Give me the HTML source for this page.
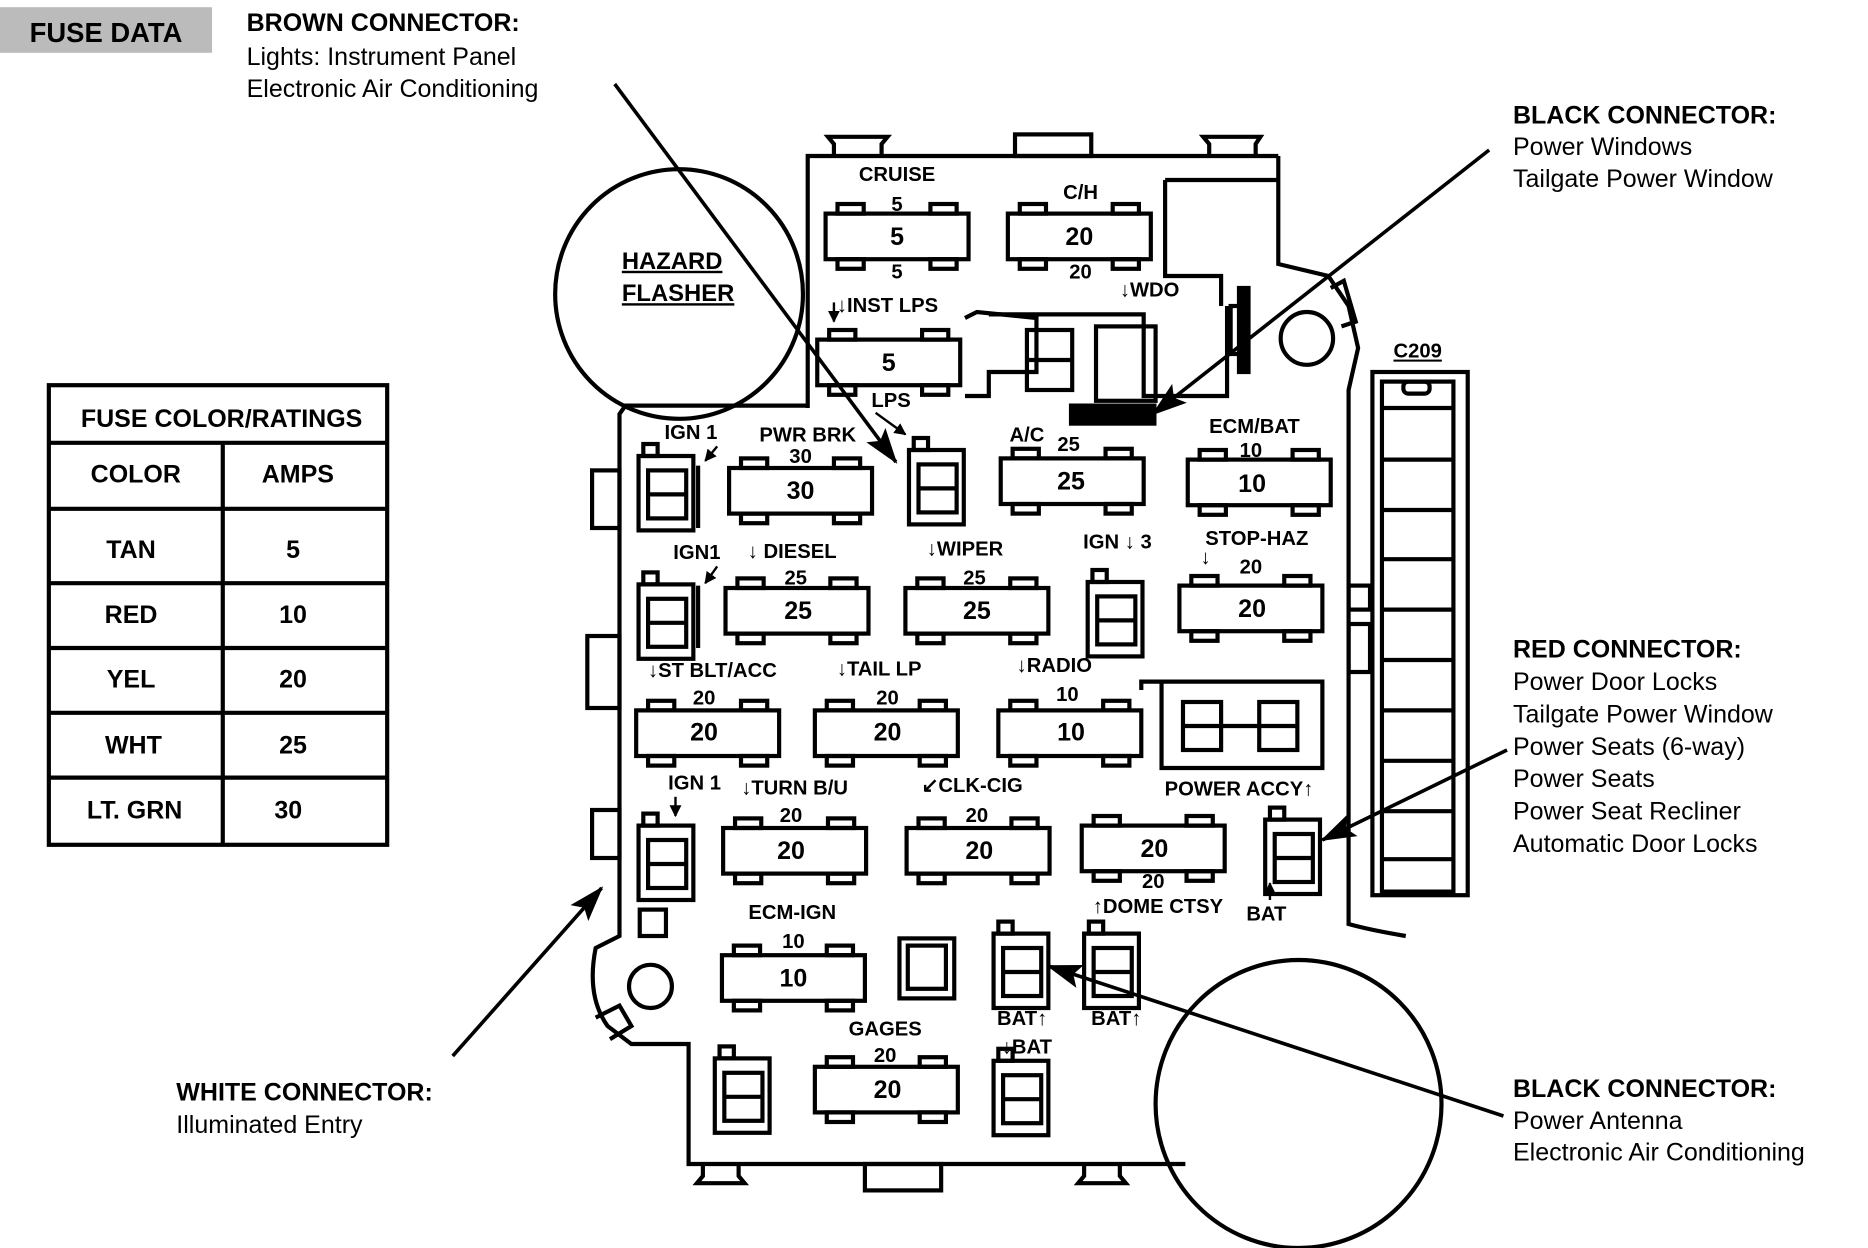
<!DOCTYPE html>
<html><head><meta charset="utf-8"><style>
html,body{margin:0;padding:0;background:#fff;}
svg{display:block}
.n{font-family:"Liberation Sans Narrow","Liberation Sans",sans-serif;font-weight:bold;font-size:21px;fill:#000;text-anchor:middle}
.s{font-family:"Liberation Sans Narrow","Liberation Sans",sans-serif;font-weight:bold;font-size:17px;fill:#000;text-anchor:middle}
.h{font-family:"Liberation Sans",sans-serif;font-size:21px;fill:#000}
.hb{font-family:"Liberation Sans",sans-serif;font-size:21px;font-weight:bold;fill:#000}
</style></head><body>
<svg width="1868" height="1248" viewBox="0 0 1568 1040" preserveAspectRatio="none" xmlns="http://www.w3.org/2000/svg">
<defs>
<g id="fu" fill="none" stroke="#000" stroke-width="3.5">
<rect x="0" y="0" width="120" height="38" fill="#fff"/>
<rect x="10" y="-8" width="22" height="8"/><rect x="88" y="-8" width="22" height="8"/>
<rect x="10" y="38" width="22" height="8"/><rect x="88" y="38" width="22" height="8"/>
</g>
<g id="rl" fill="none" stroke="#000" stroke-width="3.5">
<rect x="0" y="0" width="46" height="62"/>
<rect x="8" y="12" width="32" height="40"/>
<line x1="8" y1="32" x2="40" y2="32"/>
<rect x="4" y="-10" width="12" height="10"/>
</g>
<marker id="ar" markerWidth="10" markerHeight="10" refX="9" refY="5" orient="auto" markerUnits="userSpaceOnUse" viewBox="0 0 10 10"><path d="M0,0 L10,5 L0,10z" fill="#000"/></marker>
<marker id="big" markerWidth="30" markerHeight="20" refX="28" refY="10" orient="auto" markerUnits="userSpaceOnUse" viewBox="0 0 30 20"><path d="M0,0 L30,10 L0,20 L6,10z" fill="#000"/></marker>
</defs>

<rect x="0" y="6" width="178" height="38" fill="#bbb"/>
<text x="89" y="35" class="hb" style="text-anchor:middle;font-size:23px">FUSE DATA</text>
<text x="207" y="26" class="hb">BROWN CONNECTOR:</text>
<text x="207" y="54" class="h">Lights: Instrument Panel</text>
<text x="207" y="81" class="h">Electronic Air Conditioning</text>

<g fill="none" stroke="#000" stroke-width="3.5">
<rect x="41" y="321" width="284" height="383"/>
<line x1="41" y1="369" x2="325" y2="369"/>
<line x1="41" y1="424" x2="325" y2="424"/>
<line x1="41" y1="486" x2="325" y2="486"/>
<line x1="41" y1="540" x2="325" y2="540"/>
<line x1="41" y1="594" x2="325" y2="594"/>
<line x1="41" y1="648" x2="325" y2="648"/>
<line x1="187" y1="369" x2="187" y2="704"/>
</g>
<text x="186" y="356" class="n">FUSE COLOR/RATINGS</text>
<text x="114" y="402" class="n">COLOR</text><text x="250" y="402" class="n">AMPS</text>
<text x="110" y="465" class="n">TAN</text><text x="246" y="465" class="n">5</text>
<text x="110" y="519" class="n">RED</text><text x="246" y="519" class="n">10</text>
<text x="110" y="573" class="n">YEL</text><text x="246" y="573" class="n">20</text>
<text x="112" y="628" class="n">WHT</text><text x="246" y="628" class="n">25</text>
<text x="113" y="682" class="n">LT. GRN</text><text x="242" y="682" class="n">30</text>

<circle cx="570" cy="245" r="104" fill="none" stroke="#000" stroke-width="3.5"/>
<text x="522" y="224" class="n" style="text-anchor:start;text-decoration:underline;font-size:20px">HAZARD</text>
<text x="522" y="251" class="n" style="text-anchor:start;text-decoration:underline;font-size:20px">FLASHER</text>

<g fill="none" stroke="#000" stroke-width="3.5">
<path d="M678,340 L678,130 L1073,130"/>
<path d="M1073,130 L1073,220 L1115,230 L1132,255 L1140,290 L1132,325 L1132,770 Q1150,775 1180,780"/>
<path d="M678,338 L525,338 L520,345 L520,780 L500,790 Q492,830 510,855 L530,870 L578,870 L578,970 L995,970"/>
<circle cx="546" cy="822" r="18"/>
<path d="M500,848 L520,838 L530,855 L512,866"/>
<circle cx="1097" cy="282" r="22"/>
<path d="M1117,240 L1128,234 L1138,268 L1126,272"/>
<path d="M700,130 L700,120 L695,114 L745,114 L740,120 L740,130"/>
<rect x="852" y="112" width="64" height="18"/>
<path d="M1015,130 L1015,120 L1010,114 L1058,114 L1054,120 L1054,130"/>
<path d="M590,970 L590,980 L585,986 L625,986 L620,980 L620,970"/>
<rect x="726" y="970" width="64" height="22"/>
<path d="M910,970 L910,980 L905,986 L945,986 L940,980 L940,970"/>
<rect x="497" y="392" width="23" height="48"/>
<rect x="493" y="530" width="27" height="60"/>
<rect x="497" y="675" width="23" height="40"/>
<path d="M978,150 L978,230 L1025,230 L1025,255"/>
<path d="M978,150 L1073,150"/>
<path d="M810,330 L830,330 L830,310 L870,310 L870,265 L820,260 L810,265"/>
<path d="M830,262 L960,262 L960,330 L1030,330 L1030,255"/>
<rect x="920" y="272" width="50" height="62"/>
<rect x="1033" y="255" width="12" height="40"/>
<rect x="1040" y="240" width="8" height="70" fill="#000"/>
<rect x="862" y="275" width="38" height="50"/>
<line x1="862" y1="300" x2="900" y2="300"/>
<rect x="899" y="338" width="70" height="15" fill="#000"/>
<rect x="1152" y="310" width="80" height="436"/>
<rect x="1160" y="318" width="60" height="425"/>
<line x1="1160" y1="340" x2="1220" y2="340"/>
<rect x="1178" y="318" width="22" height="10" rx="4"/>
<line x1="1160" y1="383" x2="1220" y2="383"/>
<line x1="1160" y1="425" x2="1220" y2="425"/>
<line x1="1160" y1="466" x2="1220" y2="466"/>
<line x1="1160" y1="508" x2="1220" y2="508"/>
<line x1="1160" y1="550" x2="1220" y2="550"/>
<line x1="1160" y1="592" x2="1220" y2="592"/>
<line x1="1160" y1="634" x2="1220" y2="634"/>
<line x1="1160" y1="676" x2="1220" y2="676"/>
<line x1="1160" y1="716" x2="1220" y2="716"/>
<rect x="1132" y="488" width="18" height="20"/>
<rect x="1132" y="520" width="18" height="40"/>
<path d="M958,575 L958,568 L1110,568 L1110,640 L975,640 L975,568"/>
<rect x="993" y="585" width="32" height="40"/><rect x="1057" y="585" width="32" height="40"/>
<line x1="993" y1="605" x2="1089" y2="605"/>
</g>
<text x="1190" y="298" class="s" style="text-decoration:underline">C209</text>

<use href="#fu" x="693" y="178"/><text x="753" y="204" class="n">5</text>
<text x="753" y="151" class="s">CRUISE</text><text x="753" y="176" class="s">5</text><text x="753" y="232" class="s">5</text>
<use href="#fu" x="846" y="178"/><text x="906" y="204" class="n">20</text>
<text x="907" y="166" class="s">C/H</text><text x="907" y="232" class="s">20</text>
<text x="965" y="247" class="s">↓WDO</text>
<use href="#fu" x="686" y="283"/><text x="746" y="309" class="n">5</text>
<text x="745" y="260" class="s">↓INST LPS</text>
<text x="748" y="339" class="s">LPS</text>

<use href="#fu" x="612" y="390"/><text x="672" y="416" class="n">30</text>
<text x="678" y="368" class="s">PWR BRK</text><text x="672" y="386" class="s">30</text>
<use href="#fu" x="840" y="382"/><text x="899" y="408" class="n">25</text>
<text x="862" y="368" class="s">A/C</text><text x="897" y="376" class="s">25</text>
<use href="#fu" x="997" y="383"/><text x="1051" y="410" class="n">10</text>
<text x="1053" y="361" class="s">ECM/BAT</text><text x="1050" y="381" class="s">10</text>

<use href="#fu" x="609" y="490"/><text x="670" y="516" class="n">25</text>
<text x="665" y="465" class="s">↓ DIESEL</text><text x="668" y="487" class="s">25</text>
<use href="#fu" x="760" y="490"/><text x="820" y="516" class="n">25</text>
<text x="810" y="463" class="s">↓WIPER</text><text x="818" y="487" class="s">25</text>
<use href="#fu" x="990" y="488"/><text x="1051" y="514" class="n">20</text>
<text x="1055" y="454" class="s">STOP-HAZ</text><text x="1050" y="478" class="s">20</text>
<text x="1012" y="470" class="s">↓</text>
<text x="938" y="457" class="s">IGN ↓  3</text>

<use href="#fu" x="534" y="592"/><text x="591" y="617" class="n">20</text>
<text x="598" y="564" class="s">↓ST BLT/ACC</text><text x="591" y="587" class="s">20</text>
<use href="#fu" x="684" y="592"/><text x="745" y="617" class="n">20</text>
<text x="738" y="563" class="s">↓TAIL LP</text><text x="745" y="587" class="s">20</text>
<use href="#fu" x="838" y="592"/><text x="899" y="617" class="n">10</text>
<text x="885" y="560" class="s">↓RADIO</text><text x="896" y="584" class="s">10</text>

<use href="#fu" x="607" y="690"/><text x="664" y="716" class="n">20</text>
<text x="667" y="662" class="s">↓TURN B/U</text><text x="664" y="685" class="s">20</text>
<use href="#fu" x="761" y="690"/><text x="822" y="716" class="n">20</text>
<text x="816" y="660" class="s">↙CLK-CIG</text><text x="820" y="685" class="s">20</text>
<use href="#fu" x="908" y="688"/><text x="969" y="714" class="n">20</text>
<text x="1040" y="663" class="s">POWER ACCY↑</text><text x="968" y="740" class="s">20</text>
<text x="972" y="761" class="s">↑DOME CTSY</text>
<text x="1063" y="767" class="s">BAT</text>

<use href="#fu" x="606" y="796"/><text x="666" y="822" class="n">10</text>
<text x="665" y="766" class="s">ECM-IGN</text><text x="666" y="790" class="s">10</text>
<use href="#fu" x="684" y="889"/><text x="745" y="915" class="n">20</text>
<text x="743" y="863" class="s">GAGES</text><text x="743" y="885" class="s">20</text>

<text x="580" y="366" class="s">IGN 1</text>
<text x="585" y="466" class="s">IGN1</text>
<text x="583" y="658" class="s">IGN 1</text>
<text x="858" y="854" class="s">BAT↑</text><text x="937" y="854" class="s">BAT↑</text>
<text x="862" y="878" class="s">↓BAT</text>

<use href="#rl" x="536" y="380"/>
<use href="#rl" x="536" y="487"/>
<use href="#rl" x="536" y="688"/>
<use href="#rl" x="763" y="375"/>
<use href="#rl" x="913" y="485"/>
<use href="#rl" x="1062" y="683"/>
<use href="#rl" x="834" y="778"/>
<use href="#rl" x="910" y="778"/>
<use href="#rl" x="834" y="884"/>
<use href="#rl" x="600" y="882"/>
<g fill="none" stroke="#000" stroke-width="3.5">
<rect x="755" y="782" width="46" height="50"/><rect x="762" y="788" width="32" height="36"/>
<rect x="537" y="758" width="22" height="22"/>
<path d="M586,388 L586,440"/><path d="M586,488 L586,540"/>
</g>

<g stroke="#000" stroke-width="2" fill="none" marker-end="url(#ar)">
<line x1="602" y1="372" x2="592" y2="384"/>
<line x1="602" y1="472" x2="592" y2="486"/>
<line x1="567" y1="664" x2="567" y2="680"/>
<line x1="735" y1="344" x2="760" y2="362"/>
<line x1="700" y1="252" x2="700" y2="268"/>
<line x1="1066" y1="750" x2="1066" y2="736"/>
</g>

<g stroke="#000" stroke-width="3" fill="none">
<line x1="516" y1="70" x2="752" y2="385" marker-end="url(#big)"/>
<line x1="1250" y1="125" x2="968" y2="345" marker-end="url(#big)"/>
<line x1="1265" y1="625" x2="1110" y2="700" marker-end="url(#big)"/>
<line x1="380" y1="880" x2="505" y2="740" marker-end="url(#big)"/>
<line x1="1262" y1="930" x2="880" y2="805" marker-end="url(#big)"/>
</g>

<circle cx="1090" cy="920" r="120" fill="none" stroke="#000" stroke-width="3.5"/>

<text x="1270" y="103" class="hb">BLACK CONNECTOR:</text>
<text x="1270" y="129" class="h">Power Windows</text>
<text x="1270" y="156" class="h">Tailgate Power Window</text>
<text x="1270" y="548" class="hb">RED CONNECTOR:</text>
<text x="1270" y="575" class="h">Power Door Locks</text>
<text x="1270" y="602" class="h">Tailgate Power Window</text>
<text x="1270" y="629" class="h">Power Seats (6-way)</text>
<text x="1270" y="656" class="h">Power Seats</text>
<text x="1270" y="683" class="h">Power Seat Recliner</text>
<text x="1270" y="710" class="h">Automatic Door Locks</text>
<text x="1270" y="914" class="hb">BLACK CONNECTOR:</text>
<text x="1270" y="941" class="h">Power Antenna</text>
<text x="1270" y="967" class="h">Electronic Air Conditioning</text>
<text x="148" y="917" class="hb">WHITE CONNECTOR:</text>
<text x="148" y="944" class="h">Illuminated Entry</text>
</svg>
</body></html>
